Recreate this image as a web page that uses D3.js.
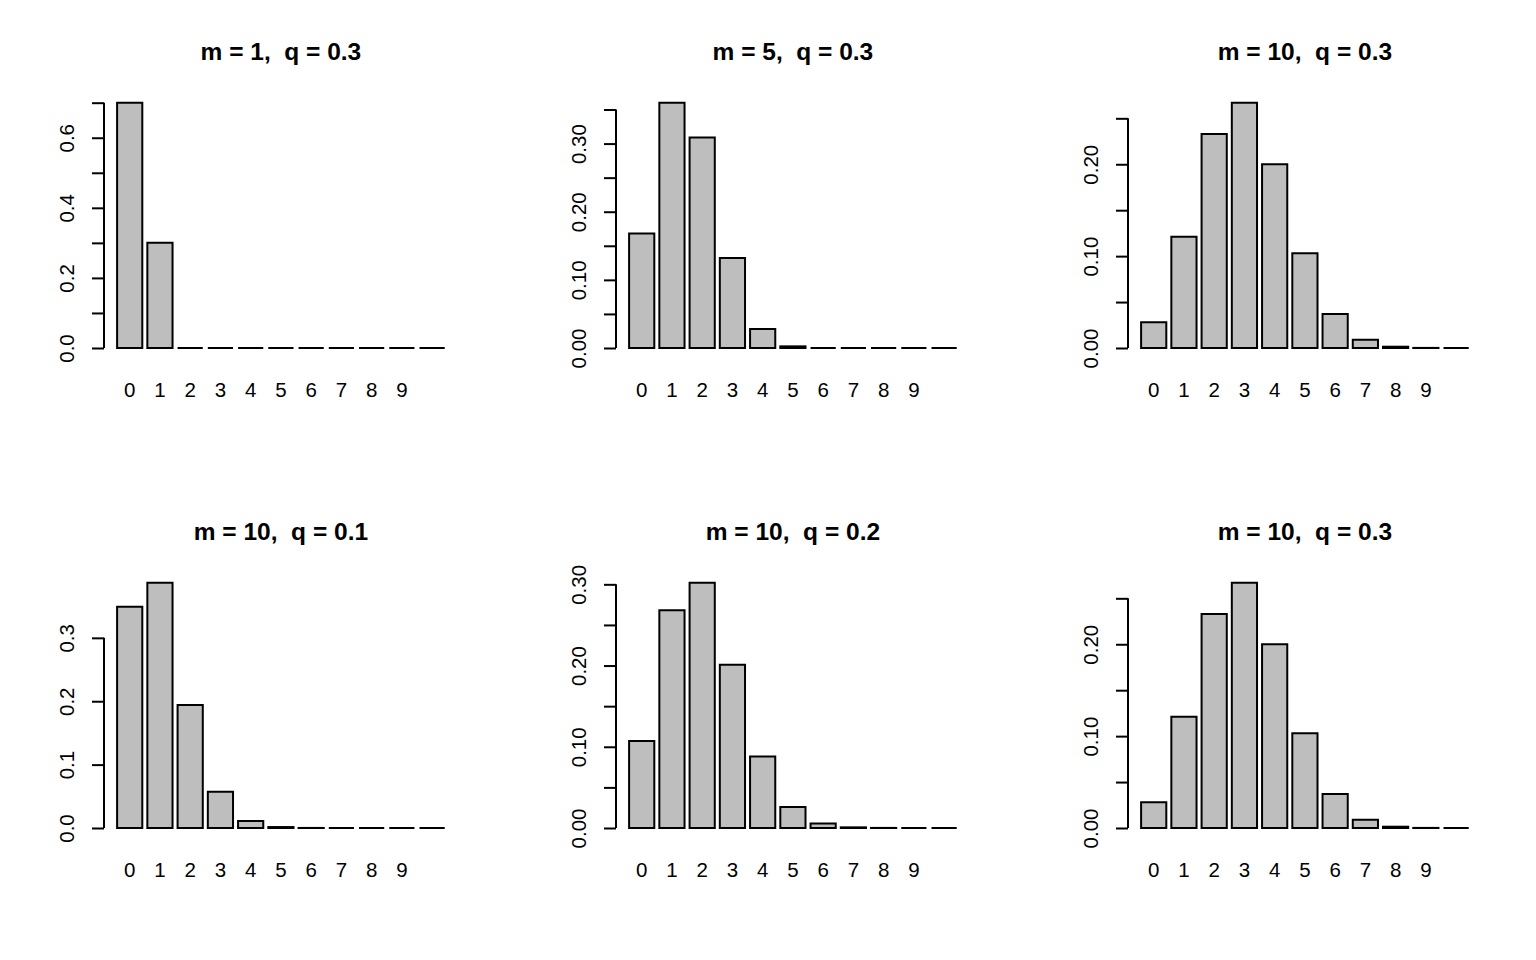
<!DOCTYPE html>
<html>
<head>
<meta charset="utf-8">
<script src="https://cdn.jsdelivr.net/npm/d3@7"></script>
<style>
  html, body { margin: 0; padding: 0; background: #ffffff; }
  svg { display: block; }
  text { font-family: "Liberation Sans", Arial, sans-serif; fill: #000; }
</style>
</head>
<body>
<svg id="chart" width="1536" height="960"></svg>
<script>
// ---- data ----
const xLabels = ["0", "1", "2", "3", "4", "5", "6", "7", "8", "9"];
const titles = [
  "m = 1,  q = 0.3", "m = 5,  q = 0.3", "m = 10,  q = 0.3",
  "m = 10,  q = 0.1", "m = 10,  q = 0.2", "m = 10,  q = 0.3"
];
const values1 = [0.700, 0.300, 0, 0, 0, 0, 0, 0, 0, 0, 0];
const values2 = [0.168, 0.360, 0.309, 0.132, 0.028, 0.0024, 0, 0, 0, 0, 0];
const values3 = [0.028, 0.121, 0.233, 0.267, 0.200, 0.103, 0.037, 0.009, 0.0014, 0.0001, 0];
const values4 = [0.349, 0.387, 0.194, 0.057, 0.011, 0.0015, 0.0001, 0, 0, 0, 0];
const values5 = [0.107, 0.268, 0.302, 0.201, 0.088, 0.026, 0.0055, 0.0008, 0.0001, 0, 0];
const values6 = [0.028, 0.121, 0.233, 0.267, 0.200, 0.103, 0.037, 0.009, 0.0014, 0.0001, 0];
const yTicks1 = [0, 0.1, 0.2, 0.3, 0.4, 0.5, 0.6, 0.7];
const yLabels1 = {"0": "0.0", "0.2": "0.2", "0.4": "0.4", "0.6": "0.6"};
const yTicks2 = [0, 0.05, 0.1, 0.15, 0.2, 0.25, 0.3, 0.35];
const yLabels2 = {"0": "0.00", "0.1": "0.10", "0.2": "0.20", "0.3": "0.30"};
const yTicks3 = [0, 0.05, 0.1, 0.15, 0.2, 0.25];
const yLabels3 = {"0": "0.00", "0.1": "0.10", "0.2": "0.20"};
const yTicks4 = [0, 0.1, 0.2, 0.3];
const yLabels4 = {"0": "0.0", "0.1": "0.1", "0.2": "0.2", "0.3": "0.3"};
const yTicks5 = [0, 0.05, 0.1, 0.15, 0.2, 0.25, 0.3];
const yLabels5 = {"0": "0.00", "0.1": "0.10", "0.2": "0.20", "0.3": "0.30"};
const yTicks6 = [0, 0.05, 0.1, 0.15, 0.2, 0.25];
const yLabels6 = {"0": "0.00", "0.1": "0.10", "0.2": "0.20"};

const panels = [
  {title: titles[0], values: values1, ticks: yTicks1, labels: yLabels1},
  {title: titles[1], values: values2, ticks: yTicks2, labels: yLabels2},
  {title: titles[2], values: values3, ticks: yTicks3, labels: yLabels3},
  {title: titles[3], values: values4, ticks: yTicks4, labels: yLabels4},
  {title: titles[4], values: values5, ticks: yTicks5, labels: yLabels5},
  {title: titles[5], values: values6, ticks: yTicks6, labels: yLabels6}
];

// ---- layout ----
const svg = d3.select("#chart");
const panelW = 512, panelH = 480;
const plotLeft = 104, unit = 25.2;
const x = d3.scaleLinear().domain([-0.32, 13.72]).range([plotLeft, plotLeft + 14.04 * unit]);
const yBase = 348, yTop = 102.7;

panels.forEach((p, k) => {
  const col = k % 3, row = Math.floor(k / 3);
  const g = svg.append("g").attr("transform", `translate(${col * panelW},${row * panelH})`);
  const y = d3.scaleLinear().domain([0, d3.max(p.values)]).range([yBase, yTop]);

  // bars (paths so zero-height bars still show their outline)
  g.selectAll("path.bar").data(p.values).enter().append("path")
    .attr("class", "bar")
    .attr("d", (v, i) => {
      const x0 = x(0.2 + 1.2 * i), x1 = x(1.2 + 1.2 * i);
      const y0 = y(0), y1 = y(v);
      return `M${x0},${y0}H${x1}V${y1}H${x0}Z`;
    })
    .attr("fill", "#bebebe")
    .attr("stroke", "#000")
    .attr("stroke-width", 2)
    .attr("stroke-linejoin", "miter");

  // y axis
  const axis = d3.axisLeft(y).tickValues(p.ticks).tickSize(12).tickSizeOuter(0)
    .tickFormat(v => { const key = String(+v.toFixed(4)); return p.labels[key] || ""; });
  const ag = g.append("g").attr("transform", `translate(${plotLeft},0)`).call(axis);
  ag.select(".domain").remove();
  ag.append("line")
    .attr("x1", 0).attr("x2", 0)
    .attr("y1", y(p.ticks[0])).attr("y2", y(p.ticks[p.ticks.length - 1]))
    .attr("stroke", "#000").attr("stroke-width", 2);
  ag.selectAll(".tick line").attr("stroke", "#000").attr("stroke-width", 2);
  ag.selectAll(".tick text")
    .attr("x", null).attr("dy", null)
    .attr("transform", "translate(-30,0) rotate(-90)")
    .attr("text-anchor", "middle")
    .style("font-family", '"Liberation Sans", Arial, sans-serif')
    .style("font-size", "20.5px")
    .attr("fill", "#000");

  // x labels
  g.selectAll("text.xl").data(xLabels).enter().append("text")
    .attr("class", "xl")
    .attr("x", (d, i) => x(0.7 + 1.2 * i))
    .attr("y", 397)
    .attr("text-anchor", "middle")
    .style("font-size", "20.5px")
    .text(d => d);

  // title
  g.append("text")
    .attr("x", (x.range()[0] + x.range()[1]) / 2)
    .attr("y", 60)
    .attr("text-anchor", "middle")
    .style("font-size", "24.5px")
    .style("font-weight", "bold")
    .style("white-space", "pre")
    .attr("xml:space", "preserve")
    .text(p.title);
});
</script>
</body>
</html>
